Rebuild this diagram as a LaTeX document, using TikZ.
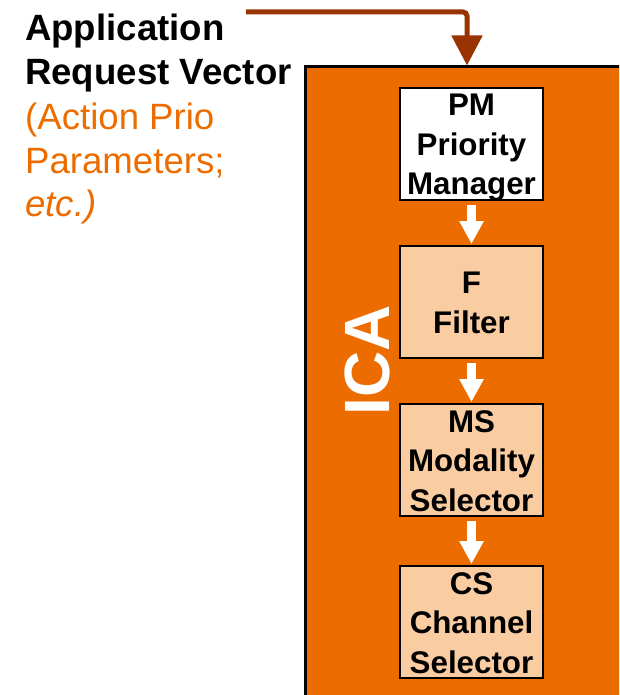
\documentclass[tikz,border=0pt]{standalone}
\usepackage{fontspec}
\setmainfont{Liberation Sans}
\usetikzlibrary{arrows.meta}
\definecolor{icaorange}{RGB}{236,108,0}
\definecolor{peach}{RGB}{249,204,162}
\definecolor{feedbrown}{RGB}{153,51,0}
\begin{document}
\begin{tikzpicture}[x=1pt,y=-1pt,
  lefttext/.style={anchor=base west,inner sep=0pt,font=\fontsize{36.6}{44}\selectfont},
  stage/.style={draw=black,line width=2pt,minimum width=143pt,minimum height=112pt,
    inner sep=0pt},
  stagetext/.style={inner sep=0pt,align=center,font=\fontsize{31.3}{39.5}\selectfont\bfseries},
  flow/.style={white,line width=9pt,-{Triangle[width=23pt,length=23pt]},
    shorten <=4pt,shorten >=1pt}]
\useasboundingbox (0,0) rectangle (619,695);
\clip (0,0) rectangle (619,695);

% container block
\node[draw=black,line width=3pt,fill=icaorange,minimum width=335pt,minimum height=653pt,
  inner sep=0pt] (ica) at (472.5,393.5) {};
\node[rotate=90,white,inner sep=0pt,font=\fontsize{64}{64}\selectfont\bfseries] (icalbl) at (367,360) {ICA};

% processing stages
\node[stage,fill=white] (pm) at (471.5,144) {};
\node[stage,fill=peach] (f) at (471.5,302) {};
\node[stage,fill=peach] (ms) at (471.5,460) {};
\node[stage,fill=peach] (cs) at (471.5,622) {};
\node[stagetext] (pmtext) at ([yshift=-4pt]pm.center) {PM\\Priority\\Manager};
\node[stagetext] (ftext) at ([yshift=-1pt]f.center) {F\\Filter};
\node[stagetext] (mstext) at ([yshift=-1pt]ms.center) {MS\\Modality\\Selector};
\node[stagetext] (cstext) at ([yshift=-1pt]cs.center) {CS\\Channel\\Selector};

\draw[flow] (pm.south) -- (f.north);
\draw[flow] (f.south) -- (ms.north);
\draw[flow] (ms.south) -- (cs.north);

% input description
\node[lefttext] (t1) at (25,41) {\bfseries Application};
\node[lefttext] (t2) at (25,85) {\bfseries Request Vector};
\node[lefttext,text=icaorange] (t3) at (25,130) {(Action Prio};
\node[lefttext,text=icaorange] (t4) at (25,173) {Parameters;};
\node[lefttext,text=icaorange] (t5) at (25,216) {\itshape etc.)};

% request feed into the block
\coordinate (src) at (246,12);
\coordinate (drop) at (467,12);
\draw[feedbrown,line width=5pt,rounded corners=4pt,-{Triangle[width=30pt,length=30pt]}]
  (src) -- (drop) -- (drop |- ica.north);
\end{tikzpicture}
\end{document}
